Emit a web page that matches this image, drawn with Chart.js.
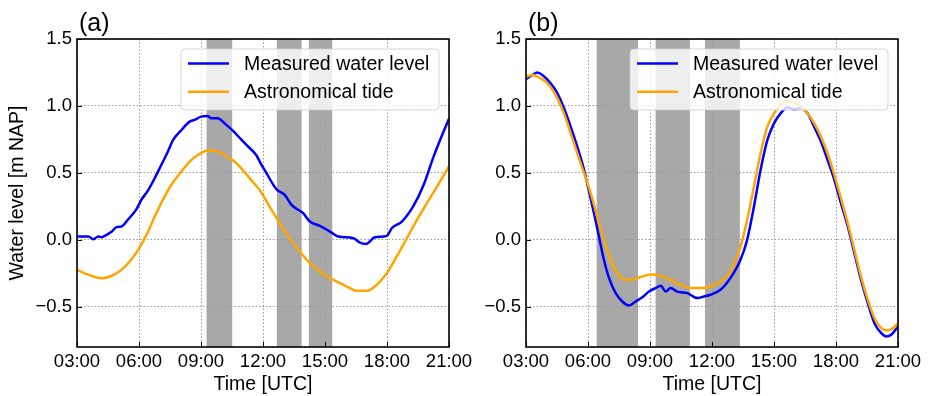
<!DOCTYPE html>
<html>
<head>
<meta charset="utf-8">
<script src="https://cdn.jsdelivr.net/npm/chart.js@4/dist/chart.umd.min.js"></script>
<style>
  body { margin: 0; background: #fff; }
  #wrap { position: relative; width: 929px; height: 396px; }
  canvas { position: absolute; top: 0; }
</style>
</head>
<body>
<div id="wrap">
  <canvas id="chartA" width="490" height="396" style="left:0"></canvas>
  <canvas id="chartB" width="465" height="396" style="left:464px"></canvas>
</div>
<script>
// x values are hours UTC
const timeTicks = [3, 6, 9, 12, 15, 18, 21];
const levelTicks = [-0.5, 0.0, 0.5, 1.0, 1.5];

// (a) measured
const aMeasHours = [3.0, 3.55, 3.79, 4.03, 4.19, 4.43, 4.67, 4.91, 5.15, 5.48, 5.88, 6.12, 6.44, 6.76, 7.08, 7.40, 7.65, 8.05, 8.45, 8.69, 9.0, 9.33, 9.49, 9.81, 10.14, 10.54, 10.94, 11.26, 11.67, 11.84, 12.16, 12.65, 13.05, 13.38, 13.94, 14.27, 14.75, 15.24, 15.64, 16.37, 16.69, 16.98, 17.42, 17.99, 18.23, 18.72, 19.28, 19.77, 20.25, 20.66, 21.0];
const aMeasured = [0.025, 0.025, 0.005, 0.025, 0.02, 0.037, 0.06, 0.095, 0.10, 0.154, 0.23, 0.30, 0.37, 0.46, 0.56, 0.66, 0.746, 0.82, 0.883, 0.896, 0.92, 0.925, 0.908, 0.908, 0.87, 0.816, 0.75, 0.70, 0.634, 0.585, 0.50, 0.378, 0.336, 0.261, 0.199, 0.137, 0.104, 0.062, 0.025, 0.012, -0.02, -0.03, 0.02, 0.03, 0.087, 0.137, 0.254, 0.41, 0.62, 0.78, 0.905];
// (a) astronomical tide
const aTideHours = [3.0, 3.55, 4.19, 4.67, 5.15, 5.56, 5.96, 6.36, 6.76, 7.16, 7.56, 8.05, 8.45, 8.85, 9.33, 9.66, 10.14, 10.62, 11.02, 11.42, 11.84, 12.32, 12.81, 13.29, 13.78, 14.27, 14.75, 15.24, 15.72, 16.21, 16.53, 17.02, 17.5, 17.99, 18.47, 18.96, 19.45, 19.93, 20.42, 21.0];
const aTide = [-0.224, -0.26, -0.286, -0.27, -0.224, -0.16, -0.075, 0.037, 0.174, 0.30, 0.41, 0.51, 0.585, 0.634, 0.667, 0.667, 0.634, 0.585, 0.522, 0.448, 0.373, 0.249, 0.124, 0.012, -0.087, -0.174, -0.236, -0.286, -0.323, -0.36, -0.38, -0.38, -0.336, -0.249, -0.124, 0.012, 0.149, 0.274, 0.398, 0.55];
// (a) shaded periods [start, end]
const aBandStart = [9.27, 12.67, 14.22];
const aBandEnd = [10.51, 13.87, 15.35];

// (b) measured
const bMeasHours = [3.0, 3.31, 3.55, 3.79, 4.19, 4.52, 4.84, 5.16, 5.48, 5.81, 6.05, 6.29, 6.53, 6.77, 7.02, 7.34, 7.66, 7.98, 8.31, 8.63, 8.95, 9.27, 9.52, 9.76, 10.0, 10.32, 10.81, 11.29, 11.61, 11.92, 12.41, 12.89, 13.38, 13.70, 14.03, 14.35, 14.68, 15.0, 15.32, 15.65, 15.97, 16.30, 16.62, 16.94, 17.27, 17.59, 17.92, 18.24, 18.57, 18.89, 19.21, 19.54, 19.86, 20.19, 20.43, 20.67, 21.0];
const bMeasured = [1.199, 1.231, 1.249, 1.231, 1.169, 1.095, 0.983, 0.846, 0.697, 0.522, 0.361, 0.199, 0.025, -0.149, -0.286, -0.398, -0.46, -0.49, -0.46, -0.428, -0.386, -0.36, -0.343, -0.386, -0.36, -0.386, -0.398, -0.435, -0.423, -0.41, -0.373, -0.286, -0.149, 0.0, 0.249, 0.522, 0.746, 0.87, 0.945, 0.988, 0.975, 0.983, 0.945, 0.846, 0.734, 0.597, 0.448, 0.274, 0.10, -0.10, -0.299, -0.473, -0.622, -0.697, -0.721, -0.709, -0.647];
// (b) astronomical tide
const bTideHours = [3.0, 3.31, 3.71, 4.11, 4.52, 4.84, 5.16, 5.48, 5.81, 6.13, 6.45, 6.77, 7.10, 7.42, 7.74, 8.06, 8.39, 8.71, 9.11, 9.52, 10.0, 10.48, 10.97, 11.61, 11.92, 12.41, 12.89, 13.38, 13.70, 14.03, 14.35, 14.68, 15.0, 15.32, 15.65, 15.97, 16.30, 16.62, 16.94, 17.27, 17.59, 17.92, 18.24, 18.57, 18.89, 19.21, 19.54, 19.86, 20.19, 20.43, 20.76, 21.0];
const bTide = [1.219, 1.231, 1.206, 1.157, 1.057, 0.945, 0.796, 0.647, 0.498, 0.348, 0.174, 0.0, -0.149, -0.249, -0.294, -0.299, -0.286, -0.269, -0.259, -0.269, -0.299, -0.336, -0.36, -0.36, -0.348, -0.311, -0.236, -0.05, 0.149, 0.398, 0.647, 0.846, 0.945, 1.007, 1.037, 1.025, 0.995, 0.945, 0.871, 0.771, 0.647, 0.485, 0.311, 0.124, -0.075, -0.274, -0.448, -0.585, -0.659, -0.677, -0.659, -0.622];
// (b) shaded periods
const bBandStart = [6.42, 9.27, 11.66];
const bBandEnd = [8.42, 10.93, 13.35];

const FONT = 'Liberation Sans, Arial, sans-serif';

function pts(xs, ys) {
  return xs.map((x, i) => ({ x: x, y: ys[i] }));
}

function hhmm(v) {
  return String(v).padStart(2, '0') + ':00';
}

// gray periods, drawn before the scales so the grid shows on top
const bandsPlugin = {
  id: 'bands',
  beforeDraw(chart, args, opts) {
    const { ctx, chartArea } = chart;
    const x = chart.scales.x;
    ctx.save();
    ctx.fillStyle = '#a8a8a8';
    opts.start.forEach((s, i) => {
      const x0 = x.getPixelForValue(s);
      const x1 = x.getPixelForValue(opts.end[i]);
      ctx.fillRect(x0, chartArea.top, x1 - x0, chartArea.bottom - chartArea.top);
    });
    ctx.restore();
  }
};

// frame, inward ticks, panel label and legend box
const decorPlugin = {
  id: 'decor',
  afterDraw(chart, args, opts) {
    const { ctx, chartArea: a } = chart;
    const xs = chart.scales.x, ys = chart.scales.y;
    ctx.save();
    ctx.strokeStyle = '#000';
    ctx.lineWidth = 1;
    timeTicks.forEach(t => {
      const px = Math.round(xs.getPixelForValue(t)) + 0.5;
      ctx.beginPath(); ctx.moveTo(px, a.bottom); ctx.lineTo(px, a.bottom - 5); ctx.stroke();
    });
    levelTicks.forEach(t => {
      const py = Math.round(ys.getPixelForValue(t)) + 0.5;
      ctx.beginPath(); ctx.moveTo(a.left, py); ctx.lineTo(a.left + 5, py); ctx.stroke();
    });
    ctx.lineWidth = 1.6;
    ctx.strokeRect(a.left, a.top, a.right - a.left, a.bottom - a.top);

    // panel label
    ctx.fillStyle = '#000';
    ctx.font = '25px ' + FONT;
    ctx.textBaseline = 'alphabetic';
    ctx.textAlign = 'left';
    ctx.fillText(opts.label, a.left + 2, 31);

    // legend
    const w = 258, h = 61;
    const lx = a.right - 10 - w, ly = a.top + 10;
    ctx.beginPath();
    ctx.roundRect(lx, ly, w, h, 4);
    ctx.fillStyle = 'rgba(255,255,255,0.8)';
    ctx.fill();
    ctx.strokeStyle = 'rgba(204,204,204,0.8)';
    ctx.lineWidth = 1;
    ctx.stroke();
    ctx.font = '19.5px ' + FONT;
    ctx.textBaseline = 'middle';
    chart.data.datasets.forEach((ds, i) => {
      const cy = ly + 14.5 + i * 28.2;
      ctx.strokeStyle = ds.borderColor;
      ctx.lineWidth = 2.5;
      ctx.beginPath(); ctx.moveTo(lx + 7, cy); ctx.lineTo(lx + 48, cy); ctx.stroke();
      ctx.fillStyle = '#000';
      ctx.fillText(ds.label, lx + 63, cy + 1);
    });
    ctx.restore();
  }
};

function makeChart(id, label, meas, tide, bandStart, bandEnd, yWidth, rightPad, showTitle) {
  return new Chart(document.getElementById(id), {
    type: 'line',
    data: {
      datasets: [
        { label: 'Measured water level', data: meas, borderColor: '#0000ff', borderWidth: 2.5, order: 2 },
        { label: 'Astronomical tide', data: tide, borderColor: '#ffa500', borderWidth: 2.5, order: 1 }
      ]
    },
    options: {
      responsive: false,
      animation: false,
      parsing: false,
      elements: { point: { radius: 0 }, line: { cubicInterpolationMode: 'monotone' } },
      layout: { padding: { left: 0, right: rightPad, top: 39, bottom: 0 } },
      plugins: {
        legend: { display: false },
        tooltip: { enabled: false },
        bands: { start: bandStart, end: bandEnd },
        decor: { label: label }
      },
      scales: {
        x: {
          type: 'linear', min: 3, max: 21,
          afterBuildTicks(s) { s.ticks = timeTicks.map(v => ({ value: v })); },
          afterFit(s) { s.height = 49; },
          ticks: { callback: v => hhmm(v), color: '#000', font: { family: FONT, size: 18.5 }, padding: 4, maxRotation: 0, autoSkip: false },
          grid: { color: '#9a9a9a', lineWidth: 1, drawTicks: false },
          border: { display: false, dash: [1.5, 2] },
          title: { display: true, text: 'Time [UTC]', color: '#000', font: { family: FONT, size: 19.5 }, padding: { top: 0, bottom: 0 } }
        },
        y: {
          type: 'linear', min: -0.8, max: 1.5,
          afterBuildTicks(s) { s.ticks = levelTicks.map(v => ({ value: v })); },
          afterFit(s) { s.width = yWidth; },
          ticks: { callback: v => (v < 0 ? '\u2212' + Math.abs(v).toFixed(1) : v.toFixed(1)), color: '#000', font: { family: FONT, size: 18.5 }, padding: 5 },
          grid: { color: '#9a9a9a', lineWidth: 1, drawTicks: false },
          border: { display: false, dash: [1.5, 2] },
          title: { display: showTitle, text: 'Water level [m NAP]', color: '#000', font: { family: FONT, size: 19.5 }, padding: { top: 6, bottom: 0 } }
        }
      }
    },
    plugins: [bandsPlugin, decorPlugin]
  });
}

makeChart('chartA', '(a)', pts(aMeasHours, aMeasured), pts(aTideHours, aTide), aBandStart, aBandEnd, 77, 41, true);
makeChart('chartB', '(b)', pts(bMeasHours, bMeasured), pts(bTideHours, bTide), bBandStart, bBandEnd, 62, 31, false);
</script>
</body>
</html>
